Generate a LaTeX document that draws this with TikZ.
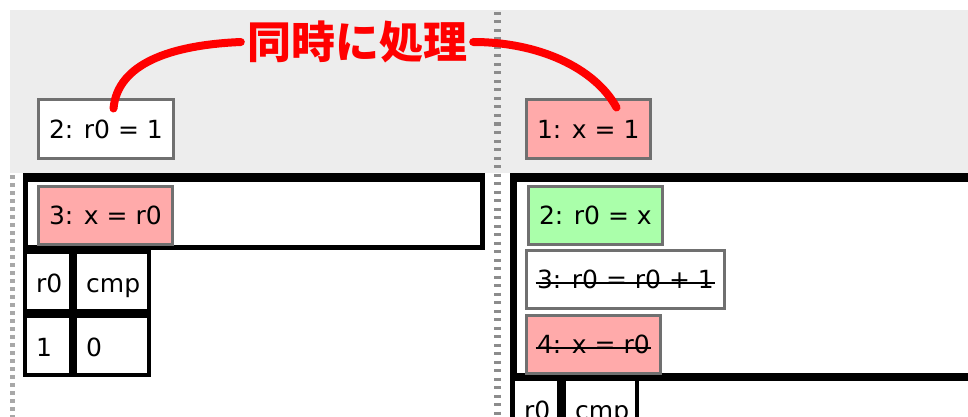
\documentclass[tikz,border=0pt]{standalone}
\usepackage{fontspec}
\setmainfont{DejaVu Sans}
\newfontfamily\cjk{Noto Sans CJK JP}
\usetikzlibrary{calc}
\definecolor{bggray}{RGB}{237,237,237}
\definecolor{boxgray}{RGB}{112,112,112}
\definecolor{sepgray}{RGB}{140,140,140}
\definecolor{dotgray}{RGB}{168,168,168}
\definecolor{pinkfill}{RGB}{255,170,170}
\definecolor{greenfill}{RGB}{170,255,170}
\tikzset{
  instr/.style={draw=boxgray,line width=3pt,fill=white,inner xsep=11pt,inner ysep=0pt,
    minimum height=58pt,anchor=north west,font=\fontsize{25}{30}\selectfont},
  cell/.style={fill=white,inner xsep=9pt,inner ysep=0pt,minimum height=55pt,text width=#1,
    text height=21pt,text depth=0pt,align=left,anchor=north west,font=\fontsize{25}{30}\selectfont},
  strike/.style={line width=1.3pt},
  hand/.style={red,line width=8pt,line cap=round}
}

\begin{document}
\begin{tikzpicture}[x=1pt,y=-1pt]
      \clip (0,0) rectangle (968,417);
      \fill[bggray] (10,10) rectangle (968,173);
      \draw[sepgray,line width=7pt,dash pattern=on 3pt off 5.5pt] (497,12) -- (497,417);
      \draw[dotgray,line width=4.5pt,dash pattern=on 4pt off 4pt] (12.5,175) -- (12.5,417);
      \fill[black] (23,173) rectangle (485,250);
      \fill[white] (28,182) rectangle (480,245);
      \fill[black] (23,250) rectangle (151,377);
      \fill[black] (510,173) rectangle (980,381);
      \fill[white] (517,182) rectangle (975,373);
      \fill[black] (510,373) rectangle (639,430);
      \node[cell=24pt] (lr0) at (27,254) {r0};
      \node[cell=52pt] (lcmp) at (77,254) {cmp};
      \node[cell=24pt] (lr0v) at (27,318) {1};
      \node[cell=52pt] (lcmpv) at (77,318) {0};
      \node[cell=24pt] (rr0) at (515,381) {r0};
      \node[cell=51pt] (rcmp) at (566,381) {cmp};
      \node[instr] (lw2) at (36.5,98.5) {2: r0 = 1};
      \node[instr,fill=pinkfill] (rw1) at (524.5,98.5) {1: x = 1};
      \node[instr,fill=pinkfill] (lw3) at (36.5,184.5) {3: x = r0};
      \node[instr,fill=greenfill] (rw2) at (526.5,184.5) {2: r0 = x};
      \node[instr] (rw3) at (524.5,248.5) {3: r0 = r0 + 1};
      \node[instr,fill=pinkfill] (rw4) at (524.5,313.5) {4: x = r0};
      \draw[strike] ($(rw3.mid west)+(11,-2.5)$) -- ($(rw3.mid east)+(-11,-2.5)$);
      \draw[strike] ($(rw4.mid west)+(11,-2.5)$) -- ($(rw4.mid east)+(-11,-2.5)$);
      \node[text=red,inner sep=6pt,font=\cjk\bfseries\fontsize{44}{50}\selectfont] (lbl) at (357,42) {同時に処理};
      \draw[hand] (lbl.west) .. controls +(-70,3) and +(4,-45) .. ($(lw2.north west)+(77,10)$);
      \draw[hand] (lbl.east) .. controls +(65,0) and +(-22,-40) .. ($(rw1.north west)+(92,9)$);
    \end{tikzpicture}
\end{document}
